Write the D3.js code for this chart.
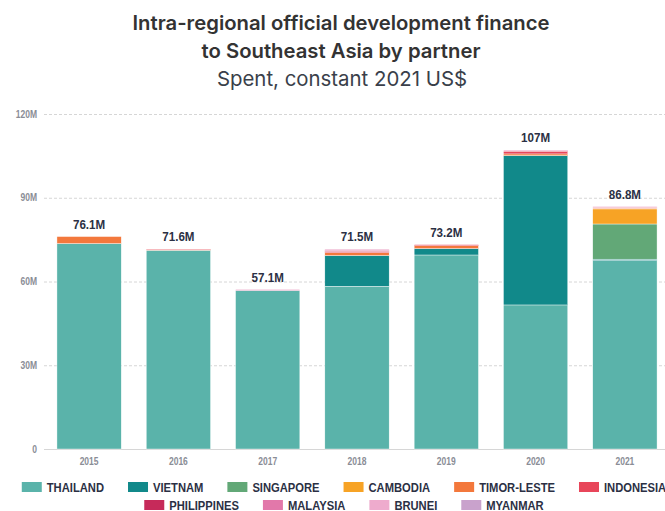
<!DOCTYPE html>
<html>
<head>
<meta charset="utf-8">
<script src="https://cdn.jsdelivr.net/npm/d3@7"></script>
<style>
  body { margin: 0; background: #fff; }
  svg { display: block; }
</style>
</head>
<body>
<div id="chart"></div>
<script>
// data (US$ millions)
const years = ["2015", "2016", "2017", "2018", "2019", "2020", "2021"];
const partners = ["Thailand", "Vietnam", "Singapore", "Cambodia", "Timor-Leste", "Indonesia", "Philippines", "Malaysia", "Brunei", "Myanmar"];
const thailand   = [73.6, 71.2, 56.8, 58.3, 69.5, 51.6, 67.5];
const vietnam    = [0, 0, 0, 11.0, 2.3, 53.5, 0.5];
const singapore  = [0, 0, 0, 0, 0, 0, 12.6];
const cambodia   = [0, 0, 0, 0, 0, 0, 5.4];
const timorLeste = [2.5, 0.2, 0, 1.0, 1.0, 0.6, 0.3];
const indonesia  = [0, 0.2, 0, 0.5, 0.4, 1.0, 0.3];
const philippines = [0, 0, 0, 0.3, 0, 0, 0];
const malaysia   = [0, 0, 0.3, 0.4, 0, 0.3, 0.2];
const brunei     = [0, 0, 0, 0, 0, 0, 0];
const myanmar    = [0, 0, 0, 0, 0, 0, 0];
const totalLabels = ["76.1M", "71.6M", "57.1M", "71.5M", "73.2M", "107M", "86.8M"];
const yTicks = [0, 30, 60, 90, 120];
const legendRows = [6, 4]; // items per legend row

const series = [thailand, vietnam, singapore, cambodia, timorLeste, indonesia, philippines, malaysia, brunei, myanmar];
const colors = ["#5ab3aa", "#11898a", "#62a877", "#f7a325", "#f3783c", "#e8465a", "#c62a5a", "#e278aa", "#eeabcd", "#c9a2cc"];

const width = 665, height = 511;
const margin = { top: 114, right: 0, bottom: 62, left: 44 };

const svg = d3.select("#chart").append("svg")
  .attr("width", width)
  .attr("height", height);

// squeeze text horizontally to fake a condensed face
function condense(sel, k) {
  sel.each(function () {
    const t = d3.select(this);
    const x0 = +t.attr("x") || 0;
    t.attr("x", x0 / k).attr("transform", `scale(${k},1)`);
  });
}

// titles
const titleFont = "Inter, 'Noto Sans', sans-serif";
svg.append("text").attr("x", 341).attr("y", 30)
  .attr("text-anchor", "middle").style("font-family", titleFont)
  .style("font-size", "20.3px").style("font-weight", 600).attr("fill", "#333")
  .text("Intra-regional official development finance");
svg.append("text").attr("x", 341).attr("y", 58)
  .attr("text-anchor", "middle").style("font-family", titleFont)
  .style("font-size", "20.3px").style("font-weight", 600).attr("fill", "#333")
  .text("to Southeast Asia by partner");
svg.append("text").attr("x", 342).attr("y", 86)
  .attr("text-anchor", "middle").style("font-family", titleFont)
  .style("font-size", "20.4px").style("font-weight", 400).attr("fill", "#3a3f4a")
  .text("Spent, constant 2021 US$");

const narrow = "'Liberation Sans', Arial, sans-serif";

const x = d3.scaleBand().domain(years).range([44, 670])
  .paddingInner(0.28).paddingOuter(0.145);
const y = d3.scaleLinear().domain([0, 120]).range([449, 114]);

// grid + y axis
const yAxis = svg.append("g")
  .attr("transform", `translate(${margin.left},0)`)
  .call(d3.axisLeft(y).tickValues(yTicks).tickSize(0).tickPadding(7)
    .tickFormat(d => d === 0 ? "0" : d + "M"));
yAxis.select(".domain").remove();
yAxis.selectAll("text")
  .style("font-family", narrow).style("font-size", "10px").style("font-weight", "bold")
  .attr("fill", "#8a8d96")
  .call(condense, 0.85);
yAxis.selectAll(".tick").append("line")
  .attr("x1", 0).attr("x2", width - margin.left)
  .attr("stroke", "#d6d6d6").attr("stroke-dasharray", d => d === 0 ? null : "3,2")
  .attr("stroke-width", 1);

// stacked bars
const rows = years.map((yr, i) => {
  const r = { year: yr };
  partners.forEach((p, j) => { r[p] = series[j][i]; });
  return r;
});
const stacked = d3.stack().keys(partners)(rows);

svg.append("g").selectAll("g")
  .data(stacked)
  .join("g")
  .attr("fill", (d, i) => colors[i])
  .selectAll("rect")
  .data(d => d.filter(s => s[1] - s[0] > 0))
  .join("rect")
  .attr("x", d => x(d.data.year))
  .attr("width", x.bandwidth())
  .attr("y", d => y(d[1]))
  .attr("height", d => y(d[0]) - y(d[1]))
  .attr("stroke", "#fff").attr("stroke-width", 0.4);

// total labels
svg.append("g").selectAll("text")
  .data(years)
  .join("text")
  .attr("x", d => x(d) + x.bandwidth() / 2)
  .attr("y", (d, i) => y(d3.sum(series, s => s[i])) - 8)
  .attr("text-anchor", "middle")
  .style("font-family", narrow).style("font-size", "13.5px").style("font-weight", "bold")
  .attr("fill", "#2b3044")
  .text((d, i) => totalLabels[i])
  .call(condense, 0.86);

// x axis
const xAxis = svg.append("g")
  .attr("transform", "translate(0,449)")
  .call(d3.axisBottom(x).tickSize(0).tickPadding(9));
xAxis.select(".domain").remove();
xAxis.selectAll("text")
  .style("font-family", narrow).style("font-size", "10px").style("font-weight", "bold")
  .attr("fill", "#8a8d96")
  .call(condense, 0.85);

// legend, centred rows (centre sits a little right of the page middle)
const k = 0.83;
const legendCentre = 344;
const legend = svg.append("g");
const sw = 20, gapText = 5, gapItem = 24, rowH = 18;
const items = legend.selectAll("g").data(partners).join("g");
items.append("rect").attr("width", sw).attr("height", 10).attr("y", -10)
  .attr("fill", (d, i) => colors[i]);
items.append("text").attr("x", sw + gapText).attr("y", 0)
  .style("font-family", narrow).style("font-size", "13.5px").style("font-weight", "bold")
  .attr("fill", "#2b3044")
  .text(d => d.toUpperCase())
  .call(condense, k);
const widths = [];
items.each(function () {
  widths.push(sw + gapText + d3.select(this).select("text").node().getBBox().width * k);
});
let start = 0;
legendRows.forEach((n, li) => {
  const idx = d3.range(start, start + n);
  start += n;
  const total = d3.sum(idx, i => widths[i]) + gapItem * (n - 1);
  let cx = legendCentre - total / 2;
  idx.forEach(i => {
    d3.select(items.nodes()[i]).attr("transform", `translate(${cx},${492 + li * rowH})`);
    cx += widths[i] + gapItem;
  });
});
</script>
</body>
</html>
